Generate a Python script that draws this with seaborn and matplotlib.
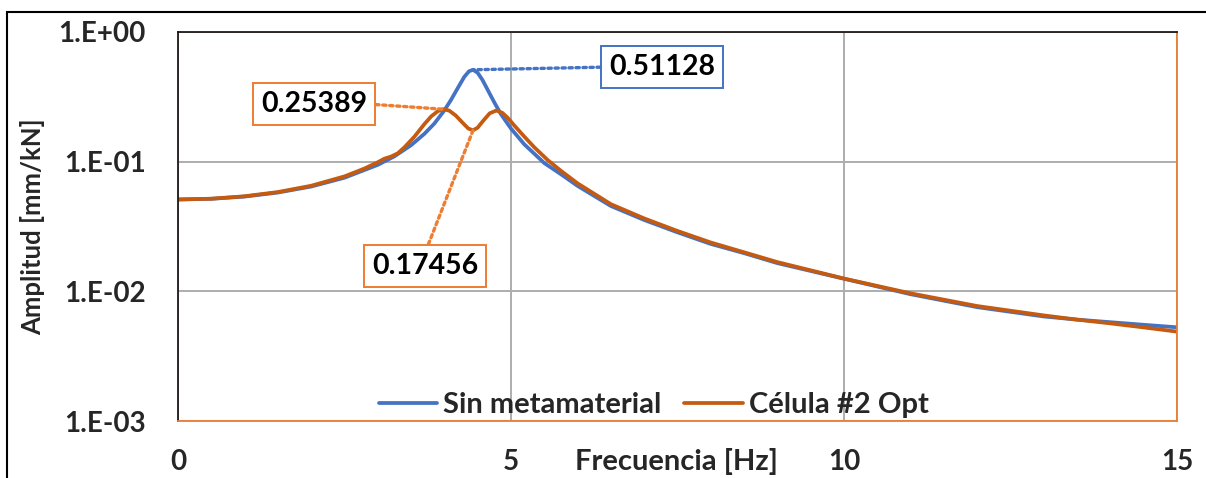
import numpy as np
import pandas as pd
import matplotlib
matplotlib.use("Agg")
import matplotlib.pyplot as plt
from matplotlib.patches import Rectangle
from matplotlib.ticker import FixedLocator, FixedFormatter, NullLocator
import seaborn as sns

# Frequency response, structure without metamaterial
freq_sin = [0.0, 0.5, 1.0, 1.5, 2.0, 2.5, 3.0, 3.25, 3.5, 3.7, 3.85, 4.0, 4.1, 4.2,
            4.3, 4.37, 4.43, 4.5, 4.57, 4.65, 4.75, 4.85, 5.0, 5.2, 5.5, 5.75, 6.0,
            6.5, 7.0, 7.5, 8.0, 8.5, 9.0, 10.0, 11.0, 12.0, 13.0, 13.5, 14.0, 14.5, 15.0]
amp_sin = [0.0511, 0.0517, 0.0538, 0.0578, 0.0643, 0.0752, 0.0945, 0.110, 0.134, 0.164,
           0.197, 0.249, 0.300, 0.369, 0.452, 0.498, 0.51128, 0.484, 0.428, 0.358, 0.286,
           0.232, 0.180, 0.136, 0.0975, 0.080, 0.0650, 0.0455, 0.0355, 0.0285, 0.0232,
           0.0197, 0.0165, 0.0125, 0.0095, 0.00755, 0.00640, 0.00605, 0.00578, 0.00552,
           0.00528]

# Frequency response, structure with optimised cell #2
freq_cel = [0.0, 0.5, 1.0, 1.5, 2.0, 2.5, 2.8, 3.0, 3.1, 3.2, 3.3, 3.4, 3.55, 3.7, 3.8,
            3.9, 3.98, 4.07, 4.17, 4.28, 4.36, 4.43, 4.5, 4.58, 4.68, 4.78, 4.87, 4.95,
            5.05, 5.2, 5.35, 5.55, 5.75, 6.0, 6.5, 7.0, 7.5, 8.0, 8.5, 9.0, 10.0, 11.0,
            12.0, 13.0, 13.5, 14.0, 14.5, 15.0]
amp_cel = [0.0511, 0.0518, 0.0541, 0.0583, 0.0652, 0.0770, 0.0885, 0.0990, 0.1055,
           0.1095, 0.1160, 0.1290, 0.1560, 0.1950, 0.2230, 0.2450, 0.25389, 0.2480,
           0.2270, 0.1980, 0.1800, 0.17456, 0.1830, 0.2060, 0.2360, 0.2480, 0.2380,
           0.2180, 0.1900, 0.1560, 0.1290, 0.1030, 0.0850, 0.0680, 0.0470, 0.0365,
           0.0292, 0.0238, 0.0200, 0.0168, 0.01255, 0.00965, 0.00770, 0.00652, 0.00605,
           0.00566, 0.00527, 0.00489]

series_names = ["Sin metamaterial", "Célula #2 Opt"]
x_ticks = [0, 5, 10, 15]
x_tick_labels = ["0", "5", "10", "15"]
y_ticks = [1e-3, 1e-2, 1e-1, 1e0]
y_tick_labels = ["1.E-03", "1.E-02", "1.E-01", "1.E+00"]
x_label = "Frecuencia [Hz]"
y_label = "Amplitud [mm/kN]"

BLUE = "#4472C4"
ORANGE = "#C55A11"
LIGHT_ORANGE = "#ED7D31"

df = pd.concat([
    pd.DataFrame({"f": freq_sin, "amp": amp_sin, "serie": series_names[0]}),
    pd.DataFrame({"f": freq_cel, "amp": amp_cel, "serie": series_names[1]}),
], ignore_index=True)

sns.set_style("white")
plt.rcParams["font.family"] = ["Lato", "DejaVu Sans"]
plt.rcParams["font.weight"] = "bold"

W, H = 1206, 478
fig = plt.figure(figsize=(W / 100, H / 100), dpi=100)
ax = fig.add_axes([178 / W, 57 / H, 999 / W, 389 / H])

sns.lineplot(data=df, x="f", y="amp", hue="serie", hue_order=series_names,
             palette={series_names[0]: BLUE, series_names[1]: ORANGE},
             estimator=None, sort=False, linewidth=2.7, ax=ax)

ax.set_yscale("log")
ax.set_xlim(0, 15)
ax.set_ylim(1e-3, 1)
ax.xaxis.set_major_locator(FixedLocator(x_ticks))
ax.xaxis.set_major_formatter(FixedFormatter(x_tick_labels))
ax.yaxis.set_major_locator(FixedLocator(y_ticks))
ax.yaxis.set_major_formatter(FixedFormatter(y_tick_labels))
ax.yaxis.set_minor_locator(NullLocator())
ax.tick_params(axis="both", length=0, labelsize=20)
ax.tick_params(axis="x", pad=20)
ax.tick_params(axis="y", pad=23)
for lbl in ax.get_xticklabels() + ax.get_yticklabels():
    lbl.set_fontweight("bold")

ax.set_axisbelow(True)
ax.grid(True, which="major", color="#ADADAD", linewidth=1.4)

for side in ["left", "top"]:
    ax.spines[side].set_color("#1f1a17")
    ax.spines[side].set_linewidth(1.3)
for side in ["right", "bottom"]:
    ax.spines[side].set_color(LIGHT_ORANGE)
    ax.spines[side].set_linewidth(1.3)

ax.set_xlabel(x_label, fontsize=21, fontweight="bold")
ax.xaxis.set_label_coords(0.4985, -0.105)
ax.xaxis.label.set_va("center")
ax.set_ylabel(y_label, fontsize=18.5, fontweight="bold")
ax.yaxis.set_label_coords(-0.146, 0.5)
ax.yaxis.label.set_va("center")

handles, labels = ax.get_legend_handles_labels()
ax.legend(handles, labels, loc="center", bbox_to_anchor=(0.476, 0.041), ncol=2,
          frameon=False, prop={"size": 21, "weight": "bold"}, handlelength=2.0,
          handletextpad=0.2, columnspacing=0.8)

# Value call-outs on the resonance peaks
fs, asn = np.array(freq_sin), np.array(amp_sin)
fc, ac = np.array(freq_cel), np.array(amp_cel)
i_sin = int(np.argmax(asn))
low = fc < 4.2
i_low = int(np.argmax(np.where(low, ac, 0)))
mid = (fc > 4.2) & (fc < 4.6)
i_mid = int(np.argmin(np.where(mid, ac, 1)))

callouts = [
    (fs[i_sin], asn[i_sin], 7.267, 0.537, BLUE, (0.0, 0.5)),
    (fc[i_low], ac[i_low], 2.042, 0.2786, LIGHT_ORANGE, (1.0, 0.5)),
    (fc[i_mid], ac[i_mid], 3.709, 0.0157, LIGHT_ORANGE, (0.5, 1.0)),
]
for x, y, tx, ty, col, rp in callouts:
    ax.annotate(f"{y:.5f}", xy=(x, y), xytext=(tx, ty), ha="center", va="center",
                fontsize=20.5, fontweight="bold", color="black",
                bbox=dict(boxstyle="square,pad=0.28", fc="white", ec=col, lw=1.4),
                arrowprops=dict(arrowstyle="-", color=col, lw=2.4,
                                linestyle=(0, (1, 1.1)), shrinkA=0, shrinkB=0,
                                relpos=rp),
                zorder=5)

# Outer chart frame
fig.patches.append(Rectangle((7 / W, -0.2), 1.2, (H - 12) / H + 0.2,
                             transform=fig.transFigure, fill=False,
                             ec="black", lw=1.5))

fig.savefig("out.png", dpi=100)
